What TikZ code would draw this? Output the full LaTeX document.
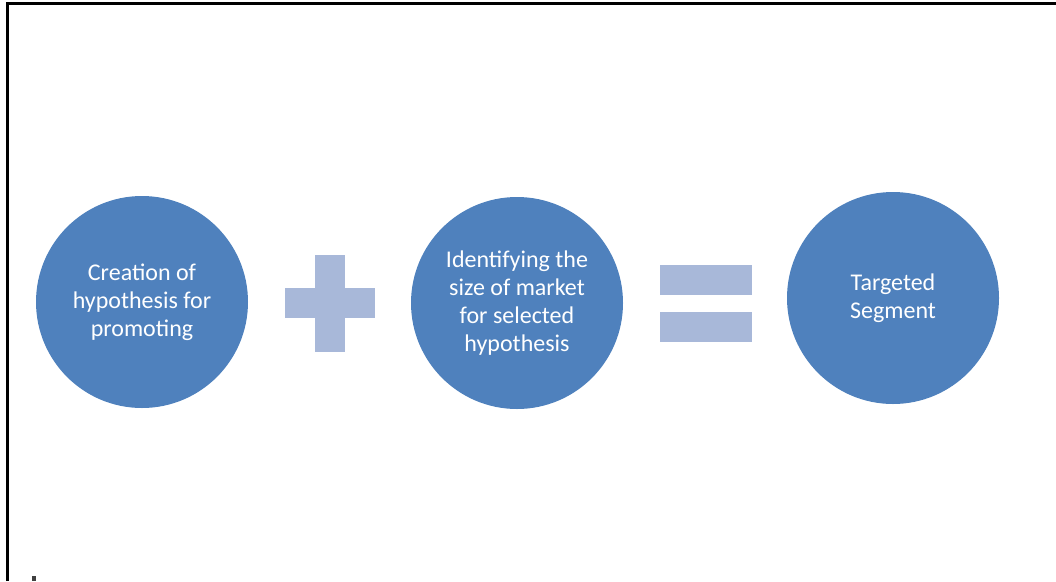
\documentclass[tikz,border=0pt]{standalone}
\usepackage{fontspec}
\setmainfont{Carlito}
\definecolor{circblue}{HTML}{4F81BD}
\definecolor{opblue}{HTML}{A8B8D9}
\tikzset{
    step circle/.style={circle,fill=circblue,minimum size=212pt,inner sep=0pt,
        text=white,align=center,font=\fontsize{24}{28}\selectfont},
    opbar/.style={fill=opblue,draw=none},
    frame/.style={draw=black,line width=3pt},
}
\begin{document}
\begin{tikzpicture}[x=1pt,y=-1pt]
    \useasboundingbox (0,0) rectangle (1056,581);
    \draw[frame] (7,581) -- (7,3) -- (1056,3);
    \node[step circle] (hyp) at (142,302) {Creation of\\hypothesis for\\promoting};
    \node[step circle] (size) at (517,303) {Identifying the\\size of market\\for selected\\hypothesis};
    \node[step circle] (seg) at (893,298) {Targeted\\Segment};
    % plus sign
    \fill[opbar] (285,288) rectangle (375,318);
    \fill[opbar] (315,255) rectangle (345,352);
    % equals sign
    \fill[opbar] (660,265) rectangle (752,295);
    \fill[opbar] (660,312) rectangle (752,342);
    % stub at the bottom edge
    \fill[black!75] (32,576) rectangle (36,581);
\end{tikzpicture}
\end{document}
